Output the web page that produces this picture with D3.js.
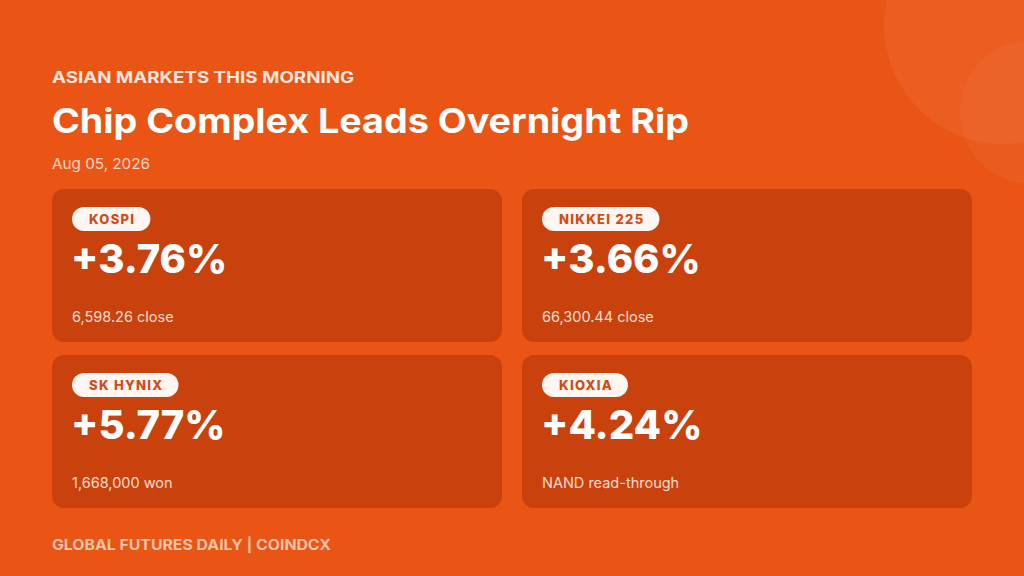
<!DOCTYPE html>
<html>
<head>
<meta charset="utf-8">
<script src="https://cdn.jsdelivr.net/npm/d3@7"></script>
<style>
  html, body { margin: 0; padding: 0; background: #ea5516; }
  svg { display: block; }
</style>
</head>
<body>
<script>
var width = 1024, height = 576;

// card data
var names = ["KOSPI", "NIKKEI 225", "SK HYNIX", "KIOXIA"];
var changes = [3.76, 3.66, 5.77, 4.24];
var notes = ["6,598.26 close", "66,300.44 close", "1,668,000 won", "NAND read-through"];
var cols = [0, 1, 0, 1];
var rows = [0, 0, 1, 1];

var kicker = "ASIAN MARKETS THIS MORNING";
var title = "Chip Complex Leads Overnight Rip";
var dateLabel = "Aug 05, 2026";
var footer = "GLOBAL FUTURES DAILY | COINDCX";

var font = "Inter, 'Open Sans', sans-serif";

var svg = d3.select("body").append("svg")
    .attr("width", width)
    .attr("height", height);

svg.append("rect")
    .attr("width", width).attr("height", height)
    .attr("fill", "#ea5516");

// soft decorative circles top right
svg.append("circle")
    .attr("cx", 1003).attr("cy", 25).attr("r", 119)
    .attr("fill", "#ffffff").attr("fill-opacity", 0.05);
svg.append("circle")
    .attr("cx", 1032).attr("cy", 112).attr("r", 72)
    .attr("fill", "#ffffff").attr("fill-opacity", 0.04);

// fit text to a measured width from the reference
function fit(sel, w) {
    sel.attr("textLength", w).attr("lengthAdjust", "spacingAndGlyphs");
}

svg.append("text")
    .attr("x", 52).attr("y", 83)
    .attr("font-family", font).attr("font-weight", 700)
    .attr("font-size", 15.5).attr("fill", "#fde6db")
    .text(kicker)
    .call(fit, 302);

svg.append("text")
    .attr("x", 52).attr("y", 133)
    .attr("font-family", font).attr("font-weight", 700)
    .attr("font-size", 34).attr("fill", "#ffffff")
    .text(title)
    .call(fit, 637);

svg.append("text")
    .attr("x", 52).attr("y", 169)
    .attr("font-family", font).attr("font-weight", 400)
    .attr("font-size", 15).attr("fill", "#fbd6c4")
    .text(dateLabel)
    .call(fit, 98);

var x = d3.scaleBand()
    .domain([0, 1])
    .range([52, 972])
    .paddingInner(20 / 470);

var y = d3.scaleBand()
    .domain([0, 1])
    .range([189, 508])
    .paddingInner(13 / 166);

var fmt = d3.format("+.2f");

var cards = svg.selectAll("g.card")
    .data(names.map(function (n, i) {
        return { name: n, change: changes[i], note: notes[i], col: cols[i], row: rows[i] };
    }))
    .enter().append("g")
    .attr("class", "card")
    .attr("transform", function (d) { return "translate(" + x(d.col) + "," + y(d.row) + ")"; });

cards.append("rect")
    .attr("width", x.bandwidth())
    .attr("height", y.bandwidth())
    .attr("rx", 12)
    .attr("fill", "#c9420e");

var pillText = cards.append("text")
    .attr("x", 37).attr("y", 35)
    .attr("font-family", font).attr("font-weight", 800)
    .attr("font-size", 13).attr("letter-spacing", 1.3)
    .attr("fill", "#d24a14")
    .text(function (d) { return d.name; });

// pill sized to the label
pillText.each(function () {
    var w = this.getComputedTextLength();
    d3.select(this.parentNode).insert("rect", "text")
        .attr("x", 20).attr("y", 18)
        .attr("width", w + 32).attr("height", 24)
        .attr("rx", 12)
        .attr("fill", "#fff6f1");
});

cards.append("text")
    .attr("x", 19).attr("y", 84)
    .attr("font-family", font).attr("font-weight", 800)
    .attr("font-size", 40).attr("fill", "#ffffff")
    .text(function (d) { return fmt(d.change) + "%"; });

cards.append("text")
    .attr("x", 20).attr("y", 133)
    .attr("font-family", font).attr("font-weight", 400)
    .attr("font-size", 14.5).attr("fill", "#fbdccd")
    .text(function (d) { return d.note; });

svg.append("text")
    .attr("x", 52).attr("y", 550)
    .attr("font-family", font).attr("font-weight", 700)
    .attr("font-size", 14).attr("fill", "#f8c3a6")
    .text(footer)
    .call(fit, 279);
</script>
</body>
</html>
